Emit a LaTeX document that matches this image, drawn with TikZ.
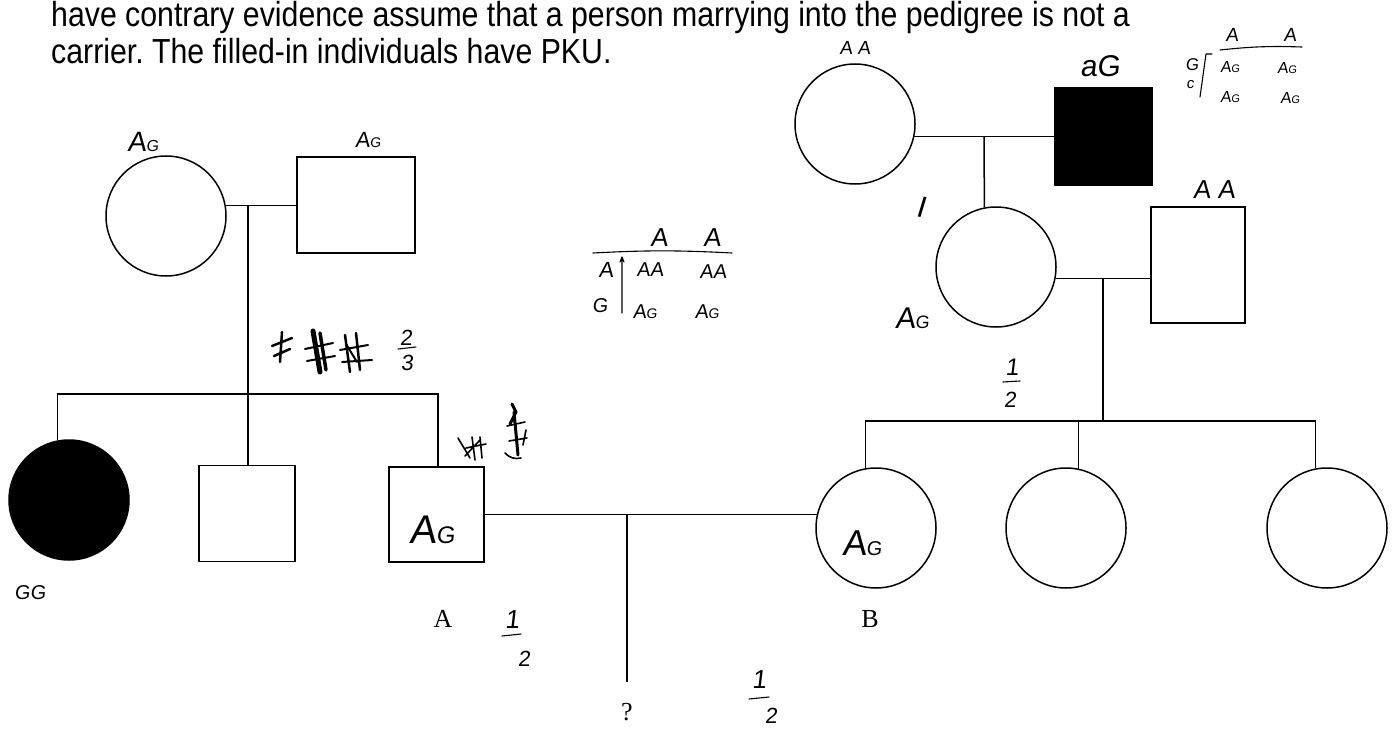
\documentclass[tikz,border=0pt]{standalone}
\usepackage{fontspec}
\setmainfont{Liberation Sans}
\newfontfamily\printfont{Liberation Sans}[FakeStretch=0.87]
\newfontfamily\labelfont{Liberation Serif}
\newfontfamily\hand{Liberation Sans}[FakeSlant=0.12]
\newcommand\hfs[1]{\fontsize{#1}{#1}\selectfont}
\newcommand\hAG[2]{{\hfs{#1}A}{\hfs{#2}G}}
\frenchspacing
\begin{document}
\begin{tikzpicture}[x=1pt,y=-1pt,
  ln/.style={line width=1.5pt},
  pcirc/.style={circle, draw, line width=1.5pt, minimum size=120pt, inner sep=0pt},
  psq/.style={rectangle, draw, line width=1.5pt, inner sep=0pt},
  hw/.style={font=\hand, inner sep=0pt},
  ink/.style={line width=1.1pt, line cap=round, line join=round},
  scr/.style={line width=3pt, line cap=round, line join=round},
  ptxt/.style={font=\printfont\hfs{34.8}, anchor=base west, inner sep=0pt},
  lab/.style={font=\labelfont\hfs{26}, inner sep=0pt}]
\useasboundingbox (0,0) rectangle (1395,733);

% printed text
\node[ptxt] (t1) at (51,27) {have contrary evidence assume that a person marrying into the pedigree is not a};
\node[ptxt] (t2) at (51,64) {carrier. The filled-in individuals have PKU.};

% ---------- left family ----------
\node[pcirc] (gm) at (166,216) {};
\node[psq, minimum width=118pt, minimum height=96pt] (gf) at (356,205) {};
\coordinate (m1) at (248,205);
\draw[ln] (gm.10.56) -- (gm.10.56 -| gf.west);

\node[pcirc, fill=black] (fc) at (69,500) {};
\node[psq, minimum size=96pt] (mS) at (247,513.5) {};
\node[psq, minimum size=95pt] (aS) at (436.5,514.5) {};
\coordinate (sbR) at (438,394);
\draw[ln] (m1) -- (m1 |- mS.north);
\draw[ln] (fc.101.54) -- (fc.101.54 |- sbR) -- (sbR) -- (sbR |- aS.north);

% ---------- right family ----------
\node[pcirc] (ggm) at (855,124) {};
\node[psq, fill=black, minimum size=97pt] (ggf) at (1103.5,136.5) {};
\draw[ln] (ggm.-12) -- (ggm.-12 -| ggf.west);
\node[pcirc] (mom) at (996,267) {};
\coordinate (m2) at (984,136.5);
\draw[ln] (m2) -- (mom.101.54);
\node[psq, minimum width=94pt, minimum height=116pt] (dad) at (1198,265) {};
\draw[ln] (mom.-11) -- (mom.-11 -| dad.west);
\coordinate (m3) at (1103,278.45);

\node[pcirc] (B) at (876,528) {};
\node[pcirc] (c2) at (1066,528) {};
\node[pcirc] (c3) at (1327,528) {};
\coordinate (rbL) at (865,421);
\draw[ln] (m3) -- (m3 |- rbL);
\draw[ln] (B.100.56) -- (B.100.56 |- rbL) -- (c3.101.54 |- rbL) -- (c3.101.54);
\draw[ln] (c2.78.46) -- (c2.78.46 |- rbL);

% ---------- marriage A x B ----------
\draw[ln] (B.167.49) -- (B.167.49 -| aS.east);
\coordinate (m4) at (627,515);
\coordinate (qend) at (627,682);
\draw[ln] (m4) -- (qend);

% printed labels
\node[lab] (lA) at (443,619) {A};
\node[lab] (lB) at (870,619) {B};
\node[lab] (lq) at (627,712) {?};

% ---------- handwritten genotypes ----------
\node[hw] (hgm) at (143,142) {\hAG{28}{16}};
\node[hw] (hgf) at (368,140) {\hAG{22}{14}};
\node[hw] (hfc) at (30,593) {\hfs{20}GG};
\node[hw] (haS) at (432,530) {\hAG{40}{24}};
\node[hw] (hB) at (862,543) {\hAG{36}{20}};
\node[hw] (hggm) at (855,48) {\hfs{19}A A};
\node[hw] (hggf) at (1100,66) {\hfs{30}aG};
\node[hw] (hdad) at (1214,190) {\hfs{26}A A};
\node[hw, rotate=-10] (hone) at (921,207) {\hfs{30}I};
\node[hw] (hmom) at (912,318) {\hAG{30}{18}};

% fractions 1/2
\node[hw] (f1n) at (512,620) {\hfs{26}1};
\draw[ink] (502,636) -- (521,634);
\node[hw] (f1d) at (524,659) {\hfs{22}2};
\node[hw] (f2n) at (759,680) {\hfs{26}1};
\draw[ink] (749,699) -- (769,697);
\node[hw] (f2d) at (771,716) {\hfs{22}2};
\node[hw] (f3n) at (1012,367) {\hfs{24}1};
\draw[ink] (1003,382) -- (1020,381);
\node[hw] (f3d) at (1010,400) {\hfs{22}2};

% fraction 2/3 and scribbles
\node[hw] (g1n) at (406,338) {\hfs{22}2};
\draw[ink] (398,349) -- (416,347);
\node[hw] (g1d) at (407,363) {\hfs{22}3};
\draw[scr, line width=2.5pt] (272,346) -- (292,338) (282,332) -- (280,362) (274,356) -- (290,349);
\draw[scr, line width=5pt] (313,331) -- (320,372);
\draw[scr, line width=3.5pt] (320,333) -- (326,370);
\draw[scr, line width=2pt] (305,349) -- (333,343) (307,361) -- (335,356);
\draw[scr, line width=2.5pt] (345,335) -- (350,372) (356,333) -- (360,370);
\draw[scr, line width=2pt] (340,350) -- (368,345) (342,362) -- (372,360) (346,344) -- (357,362);
\draw[scr, line width=1.6pt] (458,438) -- (470,458) (465,456) -- (480,440) (472,437) -- (475,460) (480,437) -- (482,458) (466,448) -- (486,444);
\draw[scr, line width=3pt] (512,404) -- (516,412) -- (510,424) (514,412) -- (518,455);
\draw[scr, line width=1.6pt] (507,426) -- (525,422) (509,441) -- (527,438) (505,453) to[bend right=30] (521,458) (523,445) -- (526,430);

% ---------- Punnett square (middle) ----------
\draw[ink] (593,253) to[bend left=3] (732,253);
\draw[ink] (620,262) -- (622,257) -- (624,262) (622,257) -- (622,313);
\node[hw] (p1h1) at (659,238) {\hfs{26}A};
\node[hw] (p1h2) at (712,238) {\hfs{26}A};
\node[hw] (p1r1) at (606,270) {\hfs{22}A};
\node[hw] (p1r2) at (600,306) {\hfs{20}G};
\node[hw] (p1a) at (650,270) {\hfs{20}AA};
\node[hw] (p1b) at (713,272) {\hfs{20}AA};
\node[hw] (p1c) at (645,312) {\hAG{20}{14}};
\node[hw] (p1d) at (707,312) {\hAG{20}{14}};

% ---------- Punnett square (top right) ----------
\node[hw] (p2h1) at (1232,35) {\hfs{19}A};
\node[hw] (p2h2) at (1290,35) {\hfs{19}A};
\draw[ink] (1220,50) to[bend left=4] (1302,47);
\draw[ink] (1212,54) -- (1206,54) -- (1200,97);
\node[hw] (p2r1) at (1192,65) {\hfs{17}G};
\node[hw] (p2r2) at (1190,85) {\hfs{15}c};
\node[hw] (p2a) at (1230,67) {\hAG{16}{11}};
\node[hw] (p2b) at (1287,68) {\hAG{16}{11}};
\node[hw] (p2c) at (1230,97) {\hAG{16}{11}};
\node[hw] (p2d) at (1290,98) {\hAG{16}{11}};
\end{tikzpicture}
\end{document}
